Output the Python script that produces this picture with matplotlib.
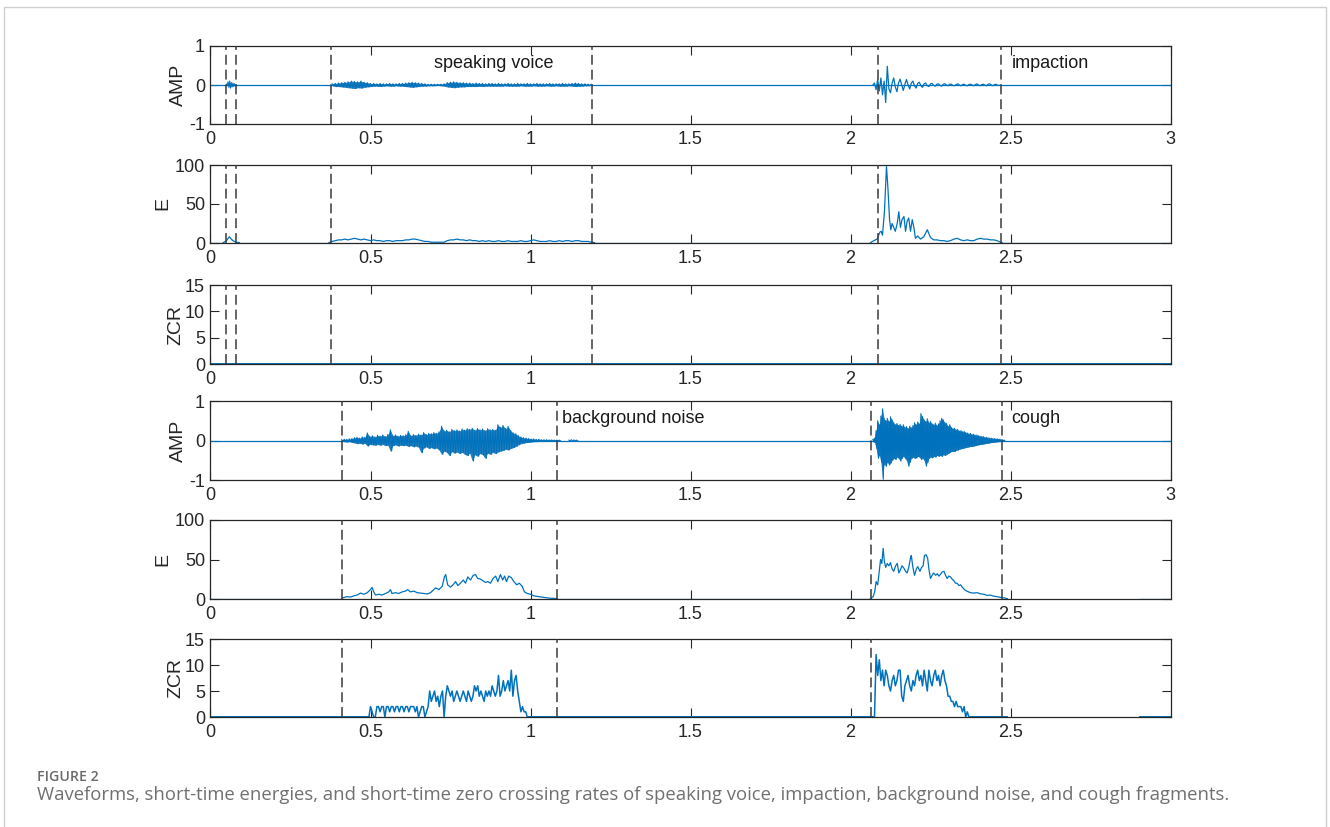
import numpy as np
import matplotlib
matplotlib.use("Agg")
import matplotlib.pyplot as plt
from matplotlib.patches import Rectangle

plt.rcParams['font.family'] = ['Liberation Sans', 'DejaVu Sans']
plt.rcParams['axes.unicode_minus'] = False

# ---------------- data ----------------
x_ticks_full = [0, 0.5, 1, 1.5, 2, 2.5, 3]
x_labels_full = ['0', '0.5', '1', '1.5', '2', '2.5', '3']
x_ticks_short = [0, 0.5, 1, 1.5, 2, 2.5]
x_labels_short = ['0', '0.5', '1', '1.5', '2', '2.5']
amp_ticks = [-1, 0, 1]
e_ticks = [0, 50, 100]
zcr_ticks = [0, 5, 10, 15]

bounds_top = [0.05, 0.08, 0.378, 1.193, 2.087, 2.471]
bounds_bottom = [0.411, 1.083, 2.064, 2.474]

labels_top = ['speaking voice', 'impaction']
labels_top_x = [0.697, 2.503]
labels_bottom = ['background noise', 'cough']
labels_bottom_x = [1.098, 2.503]

# ---- group 1: speaking voice + impaction ----
amp1_base_t = [0.0, 3.0]
amp1_base_v = [0.0, 0.0]

amp1_burst_t0, amp1_burst_dt = 0.05, 0.005
amp1_burst_up = [0.02, 0.08, 0.10, 0.06, 0.05, 0.03, 0.01]
amp1_burst_lo = [-0.02, -0.06, -0.08, -0.05, -0.04, -0.02, -0.01]

amp1_speech_t0, amp1_speech_dt = 0.38, 0.01
amp1_speech_up = [0.03, 0.04,
                  0.05, 0.06, 0.07, 0.08, 0.10, 0.09, 0.08, 0.10, 0.07, 0.06,
                  0.04, 0.04, 0.03, 0.04, 0.03, 0.03, 0.04, 0.03, 0.03, 0.04,
                  0.04, 0.05, 0.06, 0.07, 0.06, 0.05, 0.04, 0.03, 0.02, 0.02,
                  0.02, 0.02, 0.02, 0.03, 0.06, 0.07, 0.08, 0.07, 0.06, 0.06,
                  0.05, 0.05, 0.04, 0.05, 0.04, 0.04, 0.03, 0.04, 0.04, 0.03,
                  0.04, 0.03, 0.03, 0.04, 0.03, 0.03, 0.04, 0.03, 0.03, 0.04,
                  0.03, 0.03, 0.04, 0.03, 0.03, 0.03, 0.04, 0.03, 0.03, 0.03,
                  0.04, 0.03, 0.03, 0.04, 0.05, 0.04, 0.03, 0.03, 0.02, 0.02]
amp1_speech_lo = [-0.02, -0.04,
                  -0.04, -0.05, -0.06, -0.07, -0.08, -0.09, -0.07, -0.08, -0.06, -0.05,
                  -0.04, -0.03, -0.03, -0.04, -0.03, -0.02, -0.03, -0.03, -0.02, -0.03,
                  -0.03, -0.04, -0.05, -0.06, -0.05, -0.04, -0.03, -0.03, -0.02, -0.02,
                  -0.02, -0.01, -0.02, -0.03, -0.05, -0.06, -0.07, -0.06, -0.05, -0.05,
                  -0.04, -0.04, -0.04, -0.04, -0.03, -0.04, -0.03, -0.03, -0.03, -0.03,
                  -0.03, -0.03, -0.02, -0.03, -0.03, -0.03, -0.03, -0.02, -0.03, -0.03,
                  -0.03, -0.02, -0.03, -0.03, -0.03, -0.02, -0.03, -0.03, -0.02, -0.03,
                  -0.03, -0.03, -0.02, -0.03, -0.04, -0.03, -0.03, -0.02, -0.02, -0.01]

amp1_imp_t0, amp1_imp_dt = 2.07, 0.005
amp1_imp_v = [0.0, 0.05, -0.12, 0.15, -0.15, 0.18, -0.25, 0.10, -0.45, 0.48,
              -0.10, -0.20, 0.05, 0.18, -0.05, -0.17, 0.05, 0.15, 0.0, -0.14,
              0.02, 0.14, 0.0, -0.10, 0.05, 0.10, -0.02, -0.08, 0.04, 0.07,
              -0.02, -0.06, 0.03, 0.05, -0.02, -0.04, 0.03, 0.04, -0.01, -0.03,
              0.02, 0.03, -0.01, -0.03, 0.02, 0.03, 0.0, -0.02, 0.02, 0.02,
              -0.01, -0.02, 0.01, 0.03, 0.0, -0.02, 0.01, 0.02, -0.01, -0.02,
              0.01, 0.02, 0.0, -0.02, 0.01, 0.03, 0.0, -0.02, 0.01, 0.02,
              0.0, -0.02, 0.02, 0.03, 0.0, -0.02, 0.01, 0.02, -0.01, -0.01, 0.0]

e1_base_t = [0.0, 0.04, np.nan, 0.09, 0.37, np.nan, 1.20, 2.0625, np.nan, 2.474, 3.0]
e1_base_v = [0.5, 0.5, np.nan, 0.5, 0.5, np.nan, 0.5, 0.5, np.nan, 0.5, 0.5]

e1_burst_t = [0.04, 0.05, 0.055, 0.059, 0.065, 0.07, 0.075, 0.08, 0.09]
e1_burst_v = [0.5, 3, 6, 8, 5, 3, 2, 1, 0.5]

e1_speech_t0, e1_speech_dt = 0.37, 0.01
e1_speech_v = [0.5, 2, 3,
               4, 4, 5, 4, 5, 6, 5, 4, 5, 4,
               3, 4, 3, 3, 2, 3, 3, 2, 3, 3,
               3, 4, 4, 5, 5, 4, 3, 2, 2, 1,
               1, 1, 1, 1, 3, 4, 4, 5, 4, 4,
               3, 4, 3, 3, 2, 3, 2, 3, 2, 2,
               3, 2, 2, 3, 2, 2, 2, 3, 2, 2,
               3, 4, 3, 2, 2, 2, 3, 2, 2, 3,
               2, 3, 3, 2, 3, 3, 2, 2, 2, 1,
               0.5]

e1_imp_t = [2.0625, 2.073, 2.083, 2.092, 2.096, 2.100, 2.106, 2.1125, 2.117, 2.122,
            2.126, 2.130, 2.135, 2.140, 2.146, 2.151, 2.156, 2.161, 2.167, 2.172,
            2.177, 2.182, 2.1875, 2.193, 2.198, 2.203, 2.210, 2.219, 2.229, 2.240,
            2.245, 2.250, 2.260, 2.271, 2.281, 2.292, 2.302, 2.3125, 2.323, 2.333,
            2.344, 2.354, 2.365, 2.375, 2.385, 2.396, 2.406, 2.417, 2.427, 2.4375,
            2.448, 2.458, 2.469, 2.474]
e1_imp_v = [0.5, 3, 5, 14, 15, 10, 40, 98, 70, 30,
            17, 25, 20, 15, 25, 40, 20, 30, 34, 15,
            28, 32, 15, 30, 20, 6, 9, 5, 8, 17,
            12, 7, 4, 4, 3, 3, 2, 3, 5, 6,
            4, 3, 4, 3, 3, 5, 6, 5, 5, 4,
            4, 3, 1, 0.5]

zcr1_t = [0.0, 3.0]
zcr1_v = [0.0, 0.0]

# ---- group 2: background noise + cough ----
amp2_base_t = [0.0, 3.0]
amp2_base_v = [0.0, 0.0]

amp2_speech_t0, amp2_speech_dt = 0.41, 0.008
amp2_speech_up = [0.02, 0.03, 0.03, 0.04, 0.05,
                  0.07, 0.08, 0.06, 0.09, 0.08,
                  0.19, 0.10, 0.12, 0.09, 0.13,
                  0.11, 0.14, 0.10, 0.15, 0.27,
                  0.12, 0.14, 0.11, 0.13, 0.12,
                  0.14, 0.23, 0.12, 0.15, 0.13,
                  0.16, 0.14, 0.20, 0.15, 0.18,
                  0.17, 0.20, 0.18, 0.22, 0.36,
                  0.24, 0.26, 0.22, 0.28, 0.25,
                  0.27, 0.24, 0.29, 0.26, 0.30,
                  0.28, 0.31, 0.26, 0.30, 0.27,
                  0.29, 0.25, 0.30, 0.27, 0.28,
                  0.26, 0.40, 0.33, 0.38, 0.30,
                  0.36, 0.25, 0.19, 0.17, 0.12,
                  0.09, 0.07, 0.06, 0.05, 0.04,
                  0.04, 0.03, 0.03, 0.02, 0.02,
                  0.02, 0.015, 0.015, 0.01, 0.01, 0.01]
amp2_speech_lo = [-0.02, -0.03, -0.04, -0.03, -0.05,
                  -0.06, -0.08, -0.07, -0.09, -0.07,
                  -0.14, -0.10, -0.11, -0.12, -0.10,
                  -0.12, -0.10, -0.13, -0.12, -0.27,
                  -0.13, -0.11, -0.14, -0.12, -0.13,
                  -0.12, -0.15, -0.13, -0.16, -0.14,
                  -0.17, -0.31, -0.19, -0.16, -0.20,
                  -0.18, -0.21, -0.19, -0.24, -0.35,
                  -0.27, -0.30, -0.38, -0.28, -0.32,
                  -0.29, -0.33, -0.30, -0.35, -0.38,
                  -0.32, -0.52, -0.36, -0.40, -0.33,
                  -0.36, -0.45, -0.32, -0.35, -0.30,
                  -0.33, -0.29, -0.27, -0.25, -0.22,
                  -0.24, -0.20, -0.18, -0.15, -0.11,
                  -0.08, -0.07, -0.05, -0.05, -0.04,
                  -0.03, -0.03, -0.02, -0.02, -0.02,
                  -0.015, -0.015, -0.01, -0.01, -0.01, -0.01]

amp2_blip_t0, amp2_blip_dt = 1.12, 0.008
amp2_blip_up = [0.01, 0.02, 0.015, 0.01]
amp2_blip_lo = [-0.01, -0.02, -0.01, -0.01]

amp2_cough_t0, amp2_cough_dt = 2.07, 0.005
amp2_cough_up = [0.03, 0.06, 0.25, 0.50, 0.40, 0.62, 0.80, 0.55, 0.50, 0.56,
                 0.48, 0.60, 0.52, 0.45, 0.40, 0.43, 0.38, 0.41, 0.36, 0.40,
                 0.33, 0.35, 0.30, 0.36, 0.32, 0.38, 0.45, 0.40, 0.47, 0.42,
                 0.68, 0.60, 0.52, 0.48, 0.55, 0.45, 0.48, 0.42, 0.40, 0.44,
                 0.38, 0.42, 0.50, 0.56, 0.52, 0.45, 0.43, 0.36, 0.40, 0.33,
                 0.30, 0.31, 0.27, 0.28, 0.24, 0.25, 0.22, 0.23, 0.20, 0.19,
                 0.17, 0.18, 0.15, 0.16, 0.13, 0.14, 0.12, 0.11, 0.10, 0.10,
                 0.08, 0.08, 0.07, 0.06, 0.06, 0.05, 0.05, 0.04, 0.04, 0.03,
                 0.03, 0.02, 0.01]
amp2_cough_lo = [-0.03, -0.05, -0.20, -0.45, -0.38, -0.55, -0.98, -0.60, -0.65, -0.55,
                 -0.62, -0.57, -0.50, -0.45, -0.48, -0.42, -0.45, -0.52, -0.45, -0.40,
                 -0.45, -0.50, -0.65, -0.55, -0.45, -0.42, -0.45, -0.44, -0.40, -0.42,
                 -0.48, -0.45, -0.50, -0.65, -0.55, -0.45, -0.42, -0.44, -0.40, -0.42,
                 -0.38, -0.40, -0.38, -0.40, -0.36, -0.38, -0.35, -0.33, -0.30, -0.28,
                 -0.27, -0.28, -0.25, -0.24, -0.22, -0.21, -0.20, -0.19, -0.18, -0.17,
                 -0.16, -0.15, -0.15, -0.14, -0.13, -0.12, -0.11, -0.10, -0.10, -0.09,
                 -0.08, -0.07, -0.07, -0.06, -0.05, -0.05, -0.04, -0.04, -0.03, -0.03,
                 -0.02, -0.02, -0.01]

e2_base_t = [0.0, 0.4115, np.nan, 1.083, 2.0625, np.nan, 2.49, 2.49, np.nan, 2.905, 3.0]
e2_base_v = [0.5, 0.5, np.nan, 0.5, 0.5, np.nan, 0.5, 0.5, np.nan, 0.5, 0.5]

e2_speech_t = [0.4115, 0.417, 0.427, 0.4375, 0.448, 0.458, 0.469, 0.479, 0.49, 0.5,
               0.505, 0.51, 0.516, 0.526, 0.536, 0.547, 0.557, 0.5625, 0.567, 0.578,
               0.588, 0.599, 0.609, 0.616, 0.625, 0.635, 0.646, 0.656, 0.667, 0.677,
               0.6875, 0.698, 0.703, 0.714, 0.724, 0.731, 0.735, 0.741, 0.75, 0.758,
               0.766, 0.773, 0.781, 0.79, 0.797, 0.804, 0.8125, 0.821, 0.828, 0.835,
               0.844, 0.852, 0.859, 0.867, 0.875, 0.883, 0.891, 0.898, 0.906, 0.913,
               0.919, 0.925, 0.932, 0.94, 0.948, 0.957, 0.965, 0.974, 0.981, 0.99,
               1.0, 1.01, 1.026, 1.042, 1.0625, 1.083]
e2_speech_v = [1, 2, 3, 2.5, 4, 5, 7.5, 6, 8, 12,
               14.7, 9, 5, 6, 5, 7, 9, 11.8, 7, 8,
               7, 9, 10, 11.8, 9, 10, 8, 7.5, 7, 6.3,
               8, 12, 14, 12, 16, 28, 31, 18, 15, 18,
               22, 17, 20, 24, 20, 28, 24, 30, 31, 26,
               25, 23, 21, 22, 20, 26, 29, 22, 31, 24,
               29, 22, 29, 27, 22, 18, 20, 16, 9, 7,
               6, 4, 3, 2, 1, 0.5]

e2_cough_t = [2.0625, 2.071, 2.076, 2.08, 2.085, 2.089, 2.094, 2.098, 2.102, 2.106,
              2.11, 2.115, 2.12, 2.125, 2.13, 2.135, 2.141, 2.146, 2.151, 2.156,
              2.161, 2.167, 2.172, 2.177, 2.182, 2.1875, 2.19, 2.195, 2.2, 2.206,
              2.21, 2.217, 2.222, 2.227, 2.231, 2.236, 2.241, 2.245, 2.25, 2.255,
              2.26, 2.266, 2.271, 2.276, 2.281, 2.286, 2.292, 2.297, 2.302, 2.307,
              2.3125, 2.318, 2.323, 2.328, 2.333, 2.339, 2.344, 2.349, 2.354, 2.359,
              2.365, 2.375, 2.385, 2.396, 2.406, 2.417, 2.427, 2.4375, 2.448, 2.458,
              2.469, 2.479, 2.49]
e2_cough_v = [0.5, 3, 10, 22, 18, 32, 50, 45, 64, 47,
              40, 45, 42, 46, 38, 35, 42, 45, 33, 37,
              42, 39, 35, 33, 40, 52, 55, 40, 30, 38,
              41, 35, 40, 42, 55, 56, 52, 38, 26, 30,
              33, 30, 32, 29, 31, 34, 35, 30, 26, 29,
              28, 25, 23, 20, 20, 17, 18, 15, 13, 11,
              9.7, 8, 7.5, 8, 6.5, 6, 4.5, 5, 3.5, 3,
              2, 1.5, 0.5]

zcr2_base_t = [0.0, 0.495, np.nan, 0.995, 2.07, np.nan, 2.375, 2.49, np.nan, 2.905, 3.0]
zcr2_base_v = [0.0, 0.0, np.nan, 0.0, 0.0, np.nan, 0.0, 0.0, np.nan, 0.0, 0.0]

zcr2_speech_t0, zcr2_speech_dt = 0.495, 0.005
zcr2_speech_v = [0, 2, 1, 0, 0, 2, 2, 1, 2, 2,
                 0, 2, 2, 1, 2, 2, 1, 2, 2, 1,
                 2, 2, 1, 2, 2, 1, 2, 2, 2, 1,
                 2, 0, 1, 2, 2, 0, 1, 2, 5, 3,
                 4, 5, 3, 4, 2, 4, 5, 0, 4, 6,
                 5, 4, 5, 3, 4, 5, 4, 3, 4, 5,
                 4, 3, 5, 4, 3, 4, 6, 5, 6, 4,
                 5, 4, 3, 5, 4, 5, 4, 6, 5, 4,
                 5, 8, 4, 5, 7, 5, 6, 7, 5, 9,
                 4, 7, 8, 5, 3, 1, 2, 1, 1, 0,
                 0]

zcr2_cough_t0, zcr2_cough_dt = 2.07, 0.005
zcr2_cough_v = [0, 0, 12, 8, 11, 7, 9, 6, 9, 8,
                6, 5, 7, 8, 6, 7, 9, 9, 4, 3,
                6, 7, 8, 6, 5, 7, 6, 8, 9, 7,
                8, 6, 9, 7, 5, 9, 7, 6, 8, 9,
                7, 8, 6, 8, 9, 7, 6, 4, 4, 3,
                3, 2, 3, 2, 2, 2, 1, 2, 0, 1,
                0, 0]

caption_title = 'FIGURE 2'
caption_text = ('Waveforms, short-time energies, and short-time zero crossing rates of '
                'speaking voice, impaction, background noise, and cough fragments.')

# ---------------- styling ----------------
W, H = 1330, 827
BLUE = '#0072BD'
BLUE_DARK = '#0068B0'
AX_COL = '#262626'
DASH_COL = '#3a3a3a'

fig = plt.figure(figsize=(W / 100, H / 100), dpi=100)
fig.patch.set_facecolor('white')

# light outer frame
fig.patches.append(Rectangle((4 / W, -0.02), 1322 / W, 1 - 7 / H + 0.02,
                             transform=fig.transFigure, fill=False,
                             edgecolor='#cfcfcf', linewidth=1.0))

left_px, right_px = 210.5, 1170.5
panels_px = [(46, 124), (165, 243), (285, 364), (401, 480), (520, 599), (639, 717)]


def make_ax(top, bottom):
    return fig.add_axes([left_px / W, 1 - bottom / H, (right_px - left_px) / W, (bottom - top) / H])


axes = [make_ax(t, b) for t, b in panels_px]


def style(ax, ylim, yticks, ylabel, xt, xtl, label_right_px):
    ax.set_xlim(0, 3)
    ax.set_ylim(*ylim)
    ax.set_yticks(yticks)
    ax.set_yticklabels([str(v) for v in yticks])
    ax.set_xticks(xt)
    ax.set_xticklabels(xtl)
    ax.tick_params(direction='in', top=True, right=True, length=6.5, width=0.8,
                   labelsize=13, colors=AX_COL, pad=4)
    ax.tick_params(axis='x', pad=5)
    for s in ax.spines.values():
        s.set_color(AX_COL)
        s.set_linewidth(0.9)
    ax.set_ylabel(ylabel, fontsize=14, color=AX_COL)
    ax.yaxis.set_label_coords((label_right_px - left_px) / (right_px - left_px), 0.5)


def zigzag(ax, t0, dt, up, lo, fill=True):
    t = t0 + dt * np.arange(len(up))
    if fill:
        ax.fill_between(t, lo, up, color=BLUE_DARK, lw=0, alpha=0.85)
    xs = np.column_stack([t, t + dt / 2]).ravel()
    ys = np.column_stack([up, lo]).ravel()
    ax.plot(xs, ys, color=BLUE, lw=0.8)


def dashed(ax, xs):
    for x in xs:
        ax.axvline(x, color=DASH_COL, lw=1.1, linestyle=(0, (6.5, 3.2)), zorder=4)


LW = 0.9
# panel 1
ax = axes[0]
ax.plot(amp1_base_t, amp1_base_v, color=BLUE, lw=LW)
zigzag(ax, amp1_burst_t0, amp1_burst_dt, amp1_burst_up, amp1_burst_lo, fill=False)
zigzag(ax, amp1_speech_t0, amp1_speech_dt, amp1_speech_up, amp1_speech_lo)
ax.plot(amp1_imp_t0 + amp1_imp_dt * np.arange(len(amp1_imp_v)), amp1_imp_v, color=BLUE, lw=LW)
dashed(ax, bounds_top)
style(ax, (-1, 1), amp_ticks, 'AMP', x_ticks_full, x_labels_full, 187)
for txt, x in zip(labels_top, labels_top_x):
    ax.text(x, 0.54, txt, fontsize=13, color='#1a1a1a', ha='left', va='center')

# panel 2
ax = axes[1]
ax.plot(e1_base_t, e1_base_v, color=BLUE, lw=LW)
ax.plot(e1_burst_t, e1_burst_v, color=BLUE, lw=LW)
ax.plot(e1_speech_t0 + e1_speech_dt * np.arange(len(e1_speech_v)), e1_speech_v, color=BLUE, lw=LW)
ax.plot(e1_imp_t, e1_imp_v, color=BLUE, lw=LW)
dashed(ax, bounds_top)
style(ax, (0, 100), e_ticks, 'E', x_ticks_short, x_labels_short, 171.5)

# panel 3
ax = axes[2]
ax.plot(zcr1_t, zcr1_v, color=BLUE, lw=1.4)
dashed(ax, bounds_top)
style(ax, (0, 15), zcr_ticks, 'ZCR', x_ticks_short, x_labels_short, 184.5)

# panel 4
ax = axes[3]
ax.plot(amp2_base_t, amp2_base_v, color=BLUE, lw=LW)
zigzag(ax, amp2_speech_t0, amp2_speech_dt, amp2_speech_up, amp2_speech_lo)
zigzag(ax, amp2_blip_t0, amp2_blip_dt, amp2_blip_up, amp2_blip_lo, fill=False)
zigzag(ax, amp2_cough_t0, amp2_cough_dt, amp2_cough_up, amp2_cough_lo)
dashed(ax, bounds_bottom)
style(ax, (-1, 1), amp_ticks, 'AMP', x_ticks_full, x_labels_full, 187)
for txt, x in zip(labels_bottom, labels_bottom_x):
    ax.text(x, 0.55, txt, fontsize=13, color='#1a1a1a', ha='left', va='center')

# panel 5
ax = axes[4]
ax.plot(e2_base_t, e2_base_v, color=BLUE, lw=LW)
ax.plot(e2_speech_t, e2_speech_v, color=BLUE, lw=LW)
ax.plot(e2_cough_t, e2_cough_v, color=BLUE, lw=LW)
dashed(ax, bounds_bottom)
style(ax, (0, 100), e_ticks, 'E', x_ticks_short, x_labels_short, 171.5)

# panel 6
ax = axes[5]
ax.plot(zcr2_base_t, zcr2_base_v, color=BLUE, lw=1.4)
ax.plot(zcr2_speech_t0 + zcr2_speech_dt * np.arange(len(zcr2_speech_v)), zcr2_speech_v, color=BLUE, lw=1.1)
ax.plot(zcr2_cough_t0 + zcr2_cough_dt * np.arange(len(zcr2_cough_v)), zcr2_cough_v, color=BLUE, lw=1.1)
dashed(ax, bounds_bottom)
style(ax, (0, 15), zcr_ticks, 'ZCR', x_ticks_short, x_labels_short, 184.5)

# caption
fig.text(37 / W, 1 - 781 / H, caption_title, fontsize=10.2, color='#6a6a6a',
         fontweight='semibold', family=['Open Sans', 'DejaVu Sans'], va='baseline', ha='left')
fig.text(37 / W, 1 - 799.5 / H, caption_text, fontsize=13.3, color='#707070',
         family=['Open Sans', 'DejaVu Sans'], va='baseline', ha='left')

fig.savefig('out.png', dpi=100, facecolor='white')
